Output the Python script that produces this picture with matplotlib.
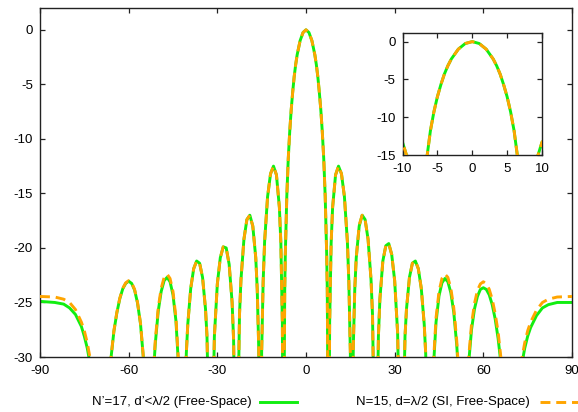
import matplotlib
matplotlib.use("Agg")
import matplotlib.pyplot as plt
from matplotlib.lines import Line2D

plt.rcParams['font.family'] = ['Liberation Sans', 'DejaVu Sans']
plt.rcParams['axes.unicode_minus'] = False

# angle (deg) where both patterns were sampled; -45 marks a null below the axis
angle_deg = [
    -90, -85, -82, -80, -78, -76, -75, -74, -73, -72, -69.0,
    -66, -65, -64, -63, -62, -61, -60, -59, -58, -57, -56, -55, -53.13,
    -51.5, -51, -50, -49, -48, -47, -46, -45, -44, -43, -41.81,
    -40.5, -40, -39, -38, -37, -36, -35, -34, -33.5, -32.23,
    -31, -30, -29, -28, -27, -26, -25, -24.5, -23.58,
    -22.5, -22, -21, -20, -19, -18, -17, -16.5, -16, -15.47,
    -15, -14.5, -14, -13, -12, -11, -10, -9, -8.5, -8, -7.66,
    -7.2, -7, -6.5, -6, -5.5, -5, -4.5, -4, -3.5, -3, -2, -1,
    0,
    1, 2, 3, 3.5, 4, 4.5, 5, 5.5, 6, 6.5, 7, 7.2,
    7.66, 8, 8.5, 9, 10, 11, 12, 13, 14, 14.5, 15,
    15.47, 16, 16.5, 17, 18, 19, 20, 21, 22, 22.5,
    23.58, 24.5, 25, 26, 27, 28, 29, 30, 31,
    32.23, 33.5, 34, 35, 36, 37, 38, 39, 40, 40.5,
    41.81, 43, 44, 45, 46, 47, 48, 49, 50, 51, 51.5,
    53.13, 55, 56, 57, 58, 59, 60, 61, 62, 63, 64, 65, 66,
    69.0, 72, 73, 74, 75, 76, 78, 80, 82, 85, 90,
]

# N'=17, d'<lambda/2 (free space), dB
af_n17 = [
    -24.9, -25.0, -25.15, -25.5, -26.1, -27.2, -28.1, -29.2, -30.7, -32.7, -45,
    -30.15, -27.65, -25.95, -24.65, -23.75, -23.25, -23.05, -23.25, -23.85, -25.05, -26.95, -30.15, -45,
    -31.0, -28.8, -25.8, -24.0, -23.0, -22.7, -23.1, -24.3, -26.7, -31.4, -45,
    -29.7, -27.0, -23.7, -21.9, -21.2, -21.4, -22.7, -25.6, -28.1, -45,
    -28.1, -23.3, -20.9, -19.9, -20.0, -21.5, -25.0, -28.4, -45,
    -26.1, -22.9, -19.2, -17.4, -17.0, -18.0, -20.9, -23.8, -29.1, -45,
    -29.5, -23.1, -19.4, -15.3, -13.2, -12.5, -13.3, -16.3, -19.6, -26.9, -45,
    -23.9, -20.6, -15.3, -11.8, -9.3, -7.3, -5.7, -4.3, -3.2, -2.3, -1.0, -0.25,
    0.0,
    -0.25, -1.0, -2.3, -3.2, -4.3, -5.7, -7.3, -9.3, -11.8, -15.3, -20.6, -23.9,
    -45, -26.9, -19.6, -16.3, -13.3, -12.5, -13.2, -15.3, -19.4, -23.1, -29.5,
    -45, -29.1, -23.8, -20.9, -18.0, -17.0, -17.4, -19.2, -22.9, -26.1,
    -45, -28.1, -24.7, -21.2, -19.8, -19.6, -20.6, -23.0, -27.8,
    -45, -28.1, -25.6, -22.7, -21.4, -21.2, -21.9, -23.7, -27.0, -29.7,
    -45, -31.5, -26.8, -24.4, -23.2, -22.8, -23.1, -24.1, -25.9, -28.9, -31.1,
    -45, -30.7, -27.5, -25.6, -24.45, -23.8, -23.65, -23.8, -24.3, -25.2, -26.5, -28.3, -30.7,
    -45, -32.75, -30.7, -29.2, -28.1, -27.3, -26.2, -25.5, -25.2, -25.0, -25.0,
]

# N=15, d=lambda/2 (SI, free space), dB
af_n15 = [
    -24.45, -24.5, -24.7, -25.0, -25.65, -26.8, -27.6, -28.7, -30.2, -32.2, -45,
    -30.1, -27.6, -25.9, -24.6, -23.7, -23.2, -23.0, -23.2, -23.8, -25.0, -26.9, -30.1, -45,
    -30.7, -28.5, -25.5, -23.7, -22.7, -22.4, -22.8, -24.0, -26.4, -31.1, -45,
    -29.7, -27.0, -23.7, -21.9, -21.2, -21.4, -22.7, -25.6, -28.1, -45,
    -28.1, -23.3, -20.9, -19.9, -20.0, -21.5, -25.0, -28.4, -45,
    -26.1, -22.9, -19.2, -17.4, -17.0, -18.0, -20.9, -23.8, -29.1, -45,
    -29.5, -23.1, -19.4, -15.3, -13.2, -12.5, -13.3, -16.3, -19.6, -26.9, -45,
    -23.9, -20.6, -15.3, -11.8, -9.3, -7.3, -5.7, -4.3, -3.2, -2.3, -1.0, -0.25,
    0.0,
    -0.25, -1.0, -2.3, -3.2, -4.3, -5.7, -7.3, -9.3, -11.8, -15.3, -20.6, -23.9,
    -45, -26.9, -19.6, -16.3, -13.3, -12.5, -13.2, -15.3, -19.4, -23.1, -29.5,
    -45, -29.1, -23.7, -20.9, -17.9, -17.0, -17.4, -19.2, -22.9, -26.1,
    -45, -28.1, -24.7, -21.2, -19.8, -19.6, -20.6, -23.0, -27.8,
    -45, -28.1, -25.6, -22.7, -21.4, -21.2, -21.9, -23.7, -27.0, -29.7,
    -45, -31.1, -26.4, -24.0, -22.8, -22.4, -22.7, -23.7, -25.5, -28.5, -30.7,
    -45, -30.2, -27.0, -25.1, -23.9, -23.3, -23.1, -23.3, -23.8, -24.7, -26.0, -27.7, -30.2,
    -45, -32.2, -30.2, -28.7, -27.6, -26.8, -25.7, -25.0, -24.7, -24.5, -24.45,
]

label_n17 = "N\u2019=17, d\u2019<\u03bb/2 (Free-Space)"
label_n15 = "N=15, d=\u03bb/2 (SI, Free-Space)"

main_xticks = [-90, -60, -30, 0, 30, 60, 90]
main_yticks = [0, -5, -10, -15, -20, -25, -30]
inset_xticks = [-10, -5, 0, 5, 10]
inset_yticks = [0, -5, -10, -15]

green = '#11ee11'
orange = '#ffa500'
fs = 9.5


def style_axes(ax):
    for s in ax.spines.values():
        s.set_linewidth(1.0)
        s.set_color('#222222')
    ax.tick_params(direction='in', top=True, right=True, length=3.5,
                   width=0.9, labelsize=fs, colors='#222222', labelcolor='black')
    ax.tick_params(axis='y', pad=5)
    ax.tick_params(axis='x', pad=6)


def draw_curves(ax):
    ax.plot(angle_deg, af_n17, color=green, lw=2.1, solid_capstyle='butt', zorder=2)
    ax.plot(angle_deg, af_n15, color=orange, lw=2.1, linestyle=(0, (3.4, 2.0)), zorder=3)


fig = plt.figure(figsize=(5.78, 4.12), dpi=100)

ax = fig.add_axes([40 / 578, 1 - 357 / 412, 532 / 578, 349 / 412])
draw_curves(ax)
ax.set_xlim(-90, 90)
ax.set_ylim(-30, 2)
ax.set_xticks(main_xticks)
ax.set_yticks(main_yticks)
style_axes(ax)

axin = fig.add_axes([402.5 / 578, 1 - 155 / 412, 139.5 / 578, 121.7 / 412])
axin.set_facecolor('white')
draw_curves(axin)
axin.set_xlim(-10, 10)
axin.set_ylim(-15, 1.1)
axin.set_xticks(inset_xticks)
axin.set_yticks(inset_yticks)
style_axes(axin)

# key below the plot, gnuplot style: text then sample
ky = 1 - 401.5 / 412
fig.text(252 / 578, ky, label_n17, ha='right', va='center', fontsize=fs)
fig.add_artist(Line2D([260 / 578, 297 / 578], [ky, ky], color=green, lw=2.1))
fig.text(530 / 578, ky, label_n15, ha='right', va='center', fontsize=fs)
fig.add_artist(Line2D([540 / 578, 590 / 578], [ky, ky], color=orange, lw=2.1,
                      linestyle=(0, (3.4, 2.0))))

fig.savefig('out.png', dpi=100)
